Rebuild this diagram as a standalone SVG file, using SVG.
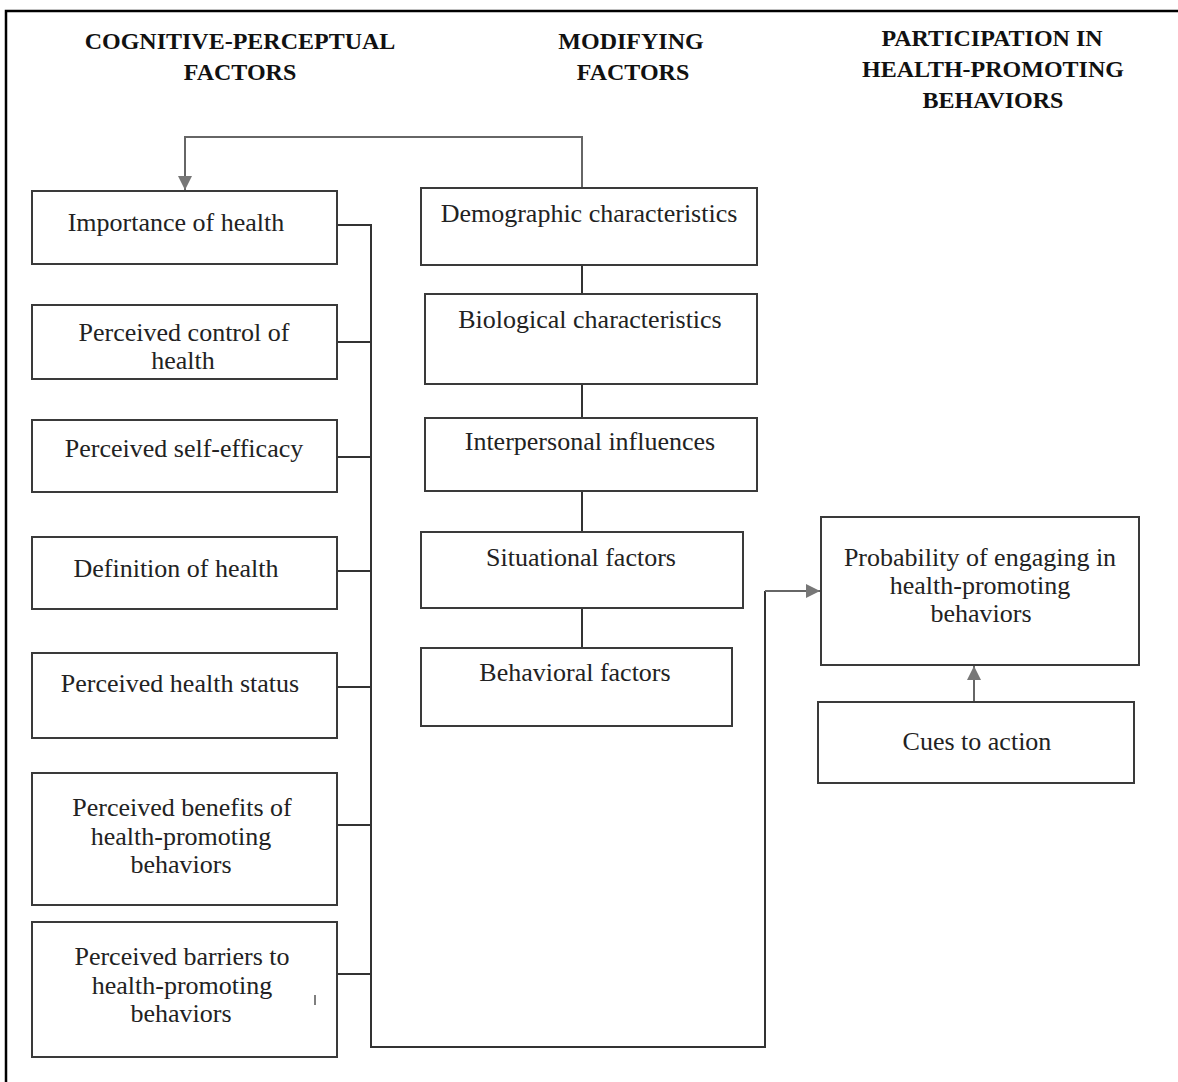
<svg xmlns="http://www.w3.org/2000/svg" width="1178" height="1082" viewBox="0 0 1178 1082">
<style>
.frame{fill:none;stroke:#000;stroke-width:2.5}
.box{fill:#fff;stroke:#3a3a3a;stroke-width:2}
.t{font-family:"Liberation Serif","Times New Roman",serif;font-size:26px;fill:#222;text-anchor:middle}
.h{font-family:"Liberation Serif","Times New Roman",serif;font-size:24px;font-weight:bold;fill:#111;text-anchor:middle}
.c{fill:none;stroke:#333;stroke-width:2}
.g{fill:none;stroke:#666;stroke-width:2}
</style>
<defs>
<marker id="ah" viewBox="0 0 10 10" refX="10" refY="5" markerWidth="14" markerHeight="14" markerUnits="userSpaceOnUse" orient="auto">
<path d="M0,0 L10,5 L0,10 Z" fill="#777"/>
</marker>
</defs>
<rect width="1178" height="1082" fill="#fff"/>
<path class="frame" d="M6,1082 V11 H1178"/>

<g id="headers">
<text class="h" x="240" y="49">COGNITIVE-PERCEPTUAL</text>
<text class="h" x="240" y="80">FACTORS</text>
<text class="h" x="631" y="49">MODIFYING</text>
<text class="h" x="633" y="80">FACTORS</text>
<text class="h" x="992" y="46">PARTICIPATION IN</text>
<text class="h" x="993" y="77">HEALTH-PROMOTING</text>
<text class="h" x="993" y="108">BEHAVIORS</text>
</g>

<g id="connectors">
<path class="g" d="M582,188 V137 H185 V190" marker-end="url(#ah)"/>
<path class="c" d="M582,265 V294 M582,384 V418 M582,491 V532 M582,608 V648"/>
<path class="c" d="M337,225 H371 V1047 H765 V591"/>
<path class="c" d="M337,342 H371 M337,457 H371 M337,571 H371 M337,687 H371 M337,825 H371 M337,974 H371"/>
<path class="g" d="M765,591 H820" marker-end="url(#ah)"/>
<path class="g" d="M974,702 V666" marker-end="url(#ah)"/>
</g>

<g id="importance">
<rect class="box" x="32" y="191" width="305" height="73"/>
<text class="t" x="176" y="231">Importance of health</text>
</g>
<g id="control">
<rect class="box" x="32" y="305" width="305" height="74"/>
<text class="t" x="184" y="341">Perceived control of</text>
<text class="t" x="183" y="369">health</text>
</g>
<g id="selfefficacy">
<rect class="box" x="32" y="420" width="305" height="72"/>
<text class="t" x="184" y="457">Perceived self-efficacy</text>
</g>
<g id="definition">
<rect class="box" x="32" y="537" width="305" height="72"/>
<text class="t" x="176" y="577">Definition of health</text>
</g>
<g id="status">
<rect class="box" x="32" y="653" width="305" height="85"/>
<text class="t" x="180" y="692">Perceived health status</text>
</g>
<g id="benefits">
<rect class="box" x="32" y="773" width="305" height="132"/>
<text class="t" x="182" y="816">Perceived benefits of</text>
<text class="t" x="181" y="845">health-promoting</text>
<text class="t" x="181" y="873">behaviors</text>
</g>
<g id="barriers">
<rect class="box" x="32" y="922" width="305" height="135"/>
<text class="t" x="182" y="965">Perceived barriers to</text>
<text class="t" x="182" y="994">health-promoting</text>
<text class="t" x="181" y="1022">behaviors</text>
<line x1="315" y1="995" x2="315" y2="1005" stroke="#555" stroke-width="1.5"/>
</g>

<g id="demographic">
<rect class="box" x="421" y="188" width="336" height="77"/>
<text class="t" x="589" y="222">Demographic characteristics</text>
</g>
<g id="biological">
<rect class="box" x="425" y="294" width="332" height="90"/>
<text class="t" x="590" y="328">Biological characteristics</text>
</g>
<g id="interpersonal">
<rect class="box" x="425" y="418" width="332" height="73"/>
<text class="t" x="590" y="450">Interpersonal influences</text>
</g>
<g id="situational">
<rect class="box" x="421" y="532" width="322" height="76"/>
<text class="t" x="581" y="566">Situational factors</text>
</g>
<g id="behavioral">
<rect class="box" x="421" y="648" width="311" height="78"/>
<text class="t" x="575" y="681">Behavioral factors</text>
</g>

<g id="probability">
<rect class="box" x="821" y="517" width="318" height="148"/>
<text class="t" x="980" y="566">Probability of engaging in</text>
<text class="t" x="980" y="594">health-promoting</text>
<text class="t" x="981" y="622">behaviors</text>
</g>
<g id="cues">
<rect class="box" x="818" y="702" width="316" height="81"/>
<text class="t" x="977" y="750">Cues to action</text>
</g>
</svg>
